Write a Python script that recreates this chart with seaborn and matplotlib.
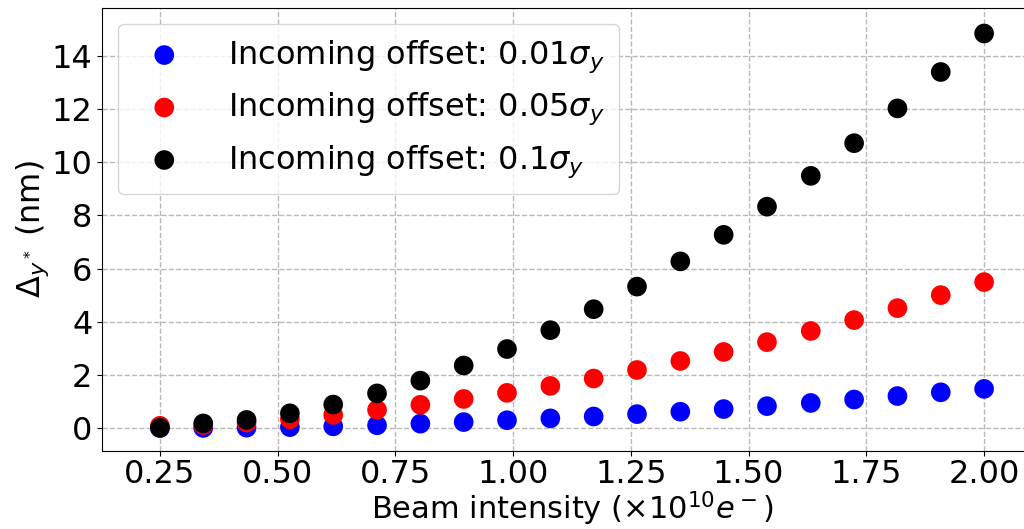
import numpy as np
import pandas as pd
import matplotlib
matplotlib.use("Agg")
import matplotlib.pyplot as plt
import seaborn as sns

# beam intensity (x 1e10 e-)
intensity = [0.25, 0.342, 0.434, 0.526, 0.618, 0.711, 0.803, 0.895, 0.987, 1.079,
             1.171, 1.263, 1.355, 1.447, 1.539, 1.632, 1.724, 1.816, 1.908, 2.00]

# Delta_y* (nm) for each incoming offset
offset_001 = [0.0, 0.0, 0.01, 0.03, 0.06, 0.10, 0.16, 0.22, 0.29, 0.36,
              0.43, 0.52, 0.61, 0.71, 0.82, 0.94, 1.07, 1.20, 1.34, 1.47]
offset_005 = [0.08, 0.11, 0.20, 0.33, 0.49, 0.68, 0.87, 1.09, 1.32, 1.58,
              1.86, 2.18, 2.52, 2.86, 3.23, 3.65, 4.06, 4.51, 5.00, 5.49]
offset_01 = [0.0, 0.17, 0.30, 0.55, 0.88, 1.30, 1.78, 2.35, 2.97, 3.68,
             4.47, 5.32, 6.27, 7.27, 8.33, 9.49, 10.72, 12.03, 13.40, 14.85]

labels = [r"Incoming offset: $0.01\sigma_y$",
          r"Incoming offset: $0.05\sigma_y$",
          r"Incoming offset: $0.1\sigma_y$"]
colors = ["blue", "red", "black"]

sns.set_style("ticks")
plt.rcParams["font.family"] = ["DejaVu Sans"]
plt.rcParams.update({"text.color": "black", "axes.labelcolor": "black",
                     "xtick.color": "black", "ytick.color": "black"})

fig = plt.figure(figsize=(10.24, 5.29), dpi=100)
ax = fig.add_axes([0.0996, 0.1474, 0.918, 0.8375])

for vals, lab, col in zip([offset_001, offset_005, offset_01], labels, colors):
    df = pd.DataFrame({"x": intensity, "y": vals})
    sns.scatterplot(data=df, x="x", y="y", color=col, s=200, edgecolor="none",
                    label=lab, ax=ax, zorder=3)

ax.set_xlim(0.127, 2.123)
ax.set_ylim(-0.87, 15.81)
ax.set_xticks(np.arange(0.25, 2.01, 0.25))
ax.set_yticks(np.arange(0, 15, 2))
ax.tick_params(labelsize=23)
ax.tick_params(axis="x", pad=2)
ax.grid(True, linestyle="--", color="#b8b8b8", linewidth=1)
for sp in ax.spines.values():
    sp.set_color("black")

ax.set_xlabel(r"Beam intensity ($\times10^{10}e^-$)", fontsize=22, labelpad=0)
ax.set_ylabel(r"$\Delta_{y^*}$ (nm)", fontsize=23, labelpad=0)
ax.legend(loc="upper left", fontsize=23, handletextpad=1.0, borderpad=0.45,
          labelspacing=0.5)

fig.savefig("out.png", dpi=100)
